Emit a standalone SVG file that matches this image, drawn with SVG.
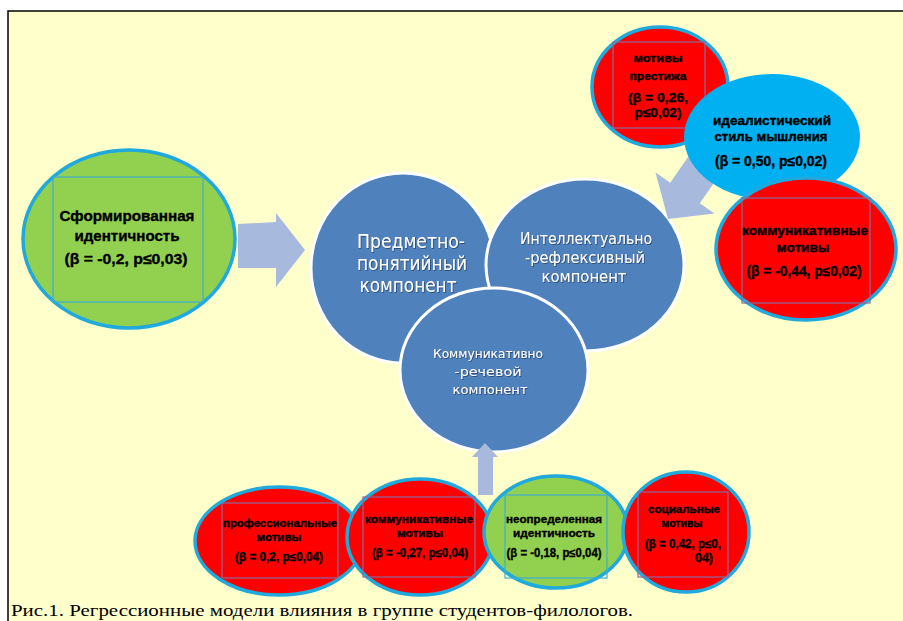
<svg xmlns="http://www.w3.org/2000/svg" width="903" height="621" viewBox="0 0 903 621">
<defs>
<style>
.bg{fill:#FFFFCC}
.frame{stroke:#000;stroke-width:1.5;fill:none}
.comp{fill:#4F81BD;stroke:#FFFFFF;stroke-width:3}
.ctxt{font-family:"DejaVu Sans","Liberation Sans",sans-serif;fill:#FFFFFF;text-anchor:middle;filter:url(#sh)}
.red{fill:#FF0000;stroke:#1FA9DC;stroke-width:3.5}
.grn{fill:#92D050;stroke:#1FA9DC;stroke-width:3.5}
.cyan{fill:#00B0F0}
.rbox{fill:none;stroke:#8A6A9E;stroke-width:1.2}
.gbox{fill:none;stroke:#3DB0D0;stroke-width:1.2}
.t{font-family:"Liberation Sans",Arial,sans-serif;font-weight:bold;fill:#000;stroke:#000;stroke-width:0.35;text-anchor:middle}
.arr{fill:#A7B9DC}
.cap{font-family:"Liberation Serif","Times New Roman",serif;font-size:17px;fill:#000}
</style>
<filter id="sh" x="-10%" y="-30%" width="120%" height="160%">
<feDropShadow dx="0.8" dy="0.8" stdDeviation="0.4" flood-color="#1F3A60" flood-opacity="0.9"/>
</filter>
</defs>
<rect x="0" y="0" width="903" height="621" fill="#FFFFFF"/>
<rect class="bg" x="8" y="11" width="895" height="610"/>
<path class="frame" d="M8,621 V11 H903"/>

<g id="node-predmetno">
<ellipse class="comp" cx="403" cy="268" rx="92" ry="95"/>
<text class="ctxt" font-size="19" x="411" y="248" textLength="108" lengthAdjust="spacingAndGlyphs">Предметно-</text>
<text class="ctxt" font-size="19" x="412" y="270" textLength="110" lengthAdjust="spacingAndGlyphs">понятийный</text>
<text class="ctxt" font-size="19" x="408" y="292" textLength="97" lengthAdjust="spacingAndGlyphs">компонент</text>
</g>
<g id="node-intellekt">
<ellipse class="comp" cx="585" cy="265" rx="99" ry="86"/>
<text class="ctxt" font-size="15" x="586" y="244" textLength="132" lengthAdjust="spacingAndGlyphs">Интеллектуально</text>
<text class="ctxt" font-size="15" x="585" y="263" textLength="120" lengthAdjust="spacingAndGlyphs">-рефлексивный</text>
<text class="ctxt" font-size="15" x="584" y="282" textLength="85" lengthAdjust="spacingAndGlyphs">компонент</text>
</g>
<g id="node-kommunik">
<ellipse class="comp" cx="494" cy="370" rx="94" ry="82"/>
<text class="ctxt" font-size="13" x="488" y="358" textLength="110" lengthAdjust="spacingAndGlyphs">Коммуникативно</text>
<text class="ctxt" font-size="13" x="488" y="376" textLength="67" lengthAdjust="spacingAndGlyphs">-речевой</text>
<text class="ctxt" font-size="13" x="490" y="394" textLength="75" lengthAdjust="spacingAndGlyphs">компонент</text>
</g>

<g id="connectors">
<polygon class="arr" points="238,224 276,222 276,213 305,250 276,287 276,268 238,268"/>
<polygon class="arr" points="478,495 478,457 472,457 485,443 498,457 493,457 493,495"/>
<polygon class="arr" points="668,219 655.5,172.5 670.2,182.7 704.2,133.7 733.8,154.3 699.8,203.3 714.5,213.5"/>
</g>

<g id="node-sform">
<ellipse class="grn" cx="129" cy="239" rx="106" ry="89"/>
<rect class="gbox" x="53" y="177" width="150" height="125"/>
<text class="t" font-size="15" x="127" y="221" textLength="135" lengthAdjust="spacingAndGlyphs">Сформированная</text>
<text class="t" font-size="15" x="127" y="241" textLength="105" lengthAdjust="spacingAndGlyphs">идентичность</text>
<text class="t" font-size="15" x="126" y="264" textLength="123" lengthAdjust="spacingAndGlyphs">(β = -0,2, p≤0,03)</text>
</g>

<g id="node-prestizh">
<ellipse class="red" cx="660" cy="87" rx="68" ry="60"/>
<rect class="rbox" x="613" y="42" width="92" height="86"/>
<text class="t" font-size="11" x="658" y="62" textLength="49" lengthAdjust="spacingAndGlyphs">мотивы</text>
<text class="t" font-size="11" x="658" y="80" textLength="57" lengthAdjust="spacingAndGlyphs">престижа</text>
<text class="t" font-size="13" x="658" y="102" textLength="60" lengthAdjust="spacingAndGlyphs">(β = 0,26,</text>
<text class="t" font-size="13" x="658" y="117" textLength="47" lengthAdjust="spacingAndGlyphs">p≤0,02)</text>
</g>
<g id="node-ideal">
<ellipse class="cyan" cx="772" cy="137" rx="88" ry="63"/>
<text class="t" font-size="12" x="772" y="125" textLength="118" lengthAdjust="spacingAndGlyphs">идеалистический</text>
<text class="t" font-size="12" x="771" y="141" textLength="113" lengthAdjust="spacingAndGlyphs">стиль мышления</text>
<text class="t" font-size="14" x="771" y="166" textLength="112" lengthAdjust="spacingAndGlyphs">(β = 0,50, p≤0,02)</text>
</g>
<g id="node-kommotiv">
<ellipse class="red" cx="806" cy="249" rx="90" ry="71"/>
<rect class="rbox" x="742" y="198" width="128" height="105"/>
<text class="t" font-size="12" x="805" y="235" textLength="126" lengthAdjust="spacingAndGlyphs">коммуникативные</text>
<text class="t" font-size="12" x="803" y="252" textLength="53" lengthAdjust="spacingAndGlyphs">мотивы</text>
<text class="t" font-size="14" x="804" y="276" textLength="115" lengthAdjust="spacingAndGlyphs">(β = -0,44, p≤0,02)</text>
</g>

<g id="node-prof">
<ellipse class="red" cx="279" cy="541" rx="84" ry="54"/>
<rect class="rbox" x="222" y="503" width="116" height="75"/>
<text class="t" font-size="11" x="280" y="527" textLength="114" lengthAdjust="spacingAndGlyphs">профессиональные</text>
<text class="t" font-size="11" x="279" y="541" textLength="45" lengthAdjust="spacingAndGlyphs">мотивы</text>
<text class="t" font-size="12" x="279" y="561" textLength="88" lengthAdjust="spacingAndGlyphs">(β = 0,2, p≤0,04)</text>
</g>
<g id="node-kommot2">
<ellipse class="red" cx="420" cy="537" rx="73" ry="58"/>
<rect class="rbox" x="363" y="497" width="112" height="80"/>
<text class="t" font-size="11" x="419" y="523" textLength="108" lengthAdjust="spacingAndGlyphs">коммуникативные</text>
<text class="t" font-size="11" x="420" y="537" textLength="46" lengthAdjust="spacingAndGlyphs">мотивы</text>
<text class="t" font-size="12" x="420" y="557" textLength="96" lengthAdjust="spacingAndGlyphs">(β = -0,27, p≤0,04)</text>
</g>
<g id="node-neopr">
<ellipse class="grn" cx="556" cy="532" rx="72" ry="56"/>
<rect class="gbox" x="505" y="495" width="102" height="83"/>
<text class="t" font-size="11" x="554" y="523" textLength="96" lengthAdjust="spacingAndGlyphs">неопределенная</text>
<text class="t" font-size="11" x="554" y="537" textLength="82" lengthAdjust="spacingAndGlyphs">идентичность</text>
<text class="t" font-size="12" x="554" y="557" textLength="95" lengthAdjust="spacingAndGlyphs">(β = -0,18, p≤0,04)</text>
</g>
<g id="node-social">
<ellipse class="red" cx="686" cy="532" rx="63" ry="60"/>
<rect class="rbox" x="638" y="492" width="90" height="85"/>
<text class="t" font-size="11" x="684" y="513" textLength="72" lengthAdjust="spacingAndGlyphs">социальные</text>
<text class="t" font-size="11" x="682" y="527" textLength="41" lengthAdjust="spacingAndGlyphs">мотивы</text>
<text class="t" font-size="12" x="683" y="548" textLength="76" lengthAdjust="spacingAndGlyphs">(β = 0,42, p≤0,</text>
<text class="t" font-size="12" x="704" y="562" textLength="18" lengthAdjust="spacingAndGlyphs">04)</text>
</g>

<text class="cap" x="11" y="616" textLength="622" lengthAdjust="spacingAndGlyphs">Рис.1. Регрессионные модели влияния в группе студентов-филологов.</text>
</svg>
